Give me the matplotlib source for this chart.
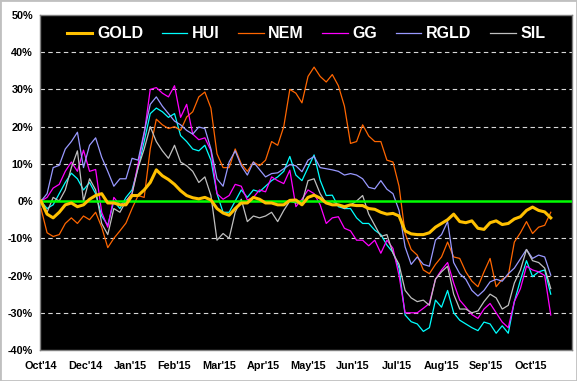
import matplotlib
matplotlib.use("Agg")
import matplotlib.pyplot as plt
import numpy as np

# values in %, sampled every 3 trading days from the start of Oct'14
step = 3
month_labels = ["Oct'14", "Dec'14", "Jan'15", "Feb'15", "Mar'15", "Apr'15",
                "May'15", "Jun'15", "Jul'15", "Aug'15", "Sep'15", "Oct'15"]
label_every = 22   # trading days between axis labels
n_days = 263

gold = [0, -3.5, -4.5, -3, -1, -0.5, -1.5, -1, 0.5, 1.5, 2, -0.5, -0.5, -1, -1,
        1.5, 1.5, 3, 5, 8.4, 6.8, 5.8, 4.5, 2.8, 1.5, 0.9, 0.6, 1, 0.3, -2,
        -3.2, -3.8, -2, -0.5, -0.5, 1, 0.5, -0.5, -0.5, -1, -1, 0.2, 0.3, -1, 1,
        1.6, 0.8, -0.5, -1, -1, -1.5, -1, -1.2, -1.2, -2, -2.2, -3, -3.5, -3.3, -4,
        -8, -8.8, -9, -9, -8.5, -7, -6, -5, -3.5, -5.5, -5.8, -5.3, -7.3, -7.6, -5.8,
        -5.3, -6.3, -6, -4.8, -4.2, -2.5, -1.6, -2.5, -2.9, -4.5]
hui = [0, -2, -1, 2, 5, 7.5, 6, 3, 5, 2, -4, -6.5, 0, -2, 1,
       3, 9, 16, 23.5, 25, 24, 22.5, 23.5, 17.6, 16, 14, 13.5, 15, 11, 2,
       -3, -3, 0, 3, 1, 3, 2.5, 4, 5.5, 6.5, 8, 12, 7, 5.5, 9,
       12.4, 5.6, 1.5, 1.6, -1.5, -2, -2, -4.5, -6, -6, -7.8, -9, -11.8, -13.8, -18,
       -30.6, -32.4, -33, -35, -34, -26.6, -28.5, -24, -30, -32, -33, -34, -34.8, -32.5, -33,
       -35.5, -33.5, -35.5, -27, -21.2, -16, -20.3, -19, -18.5, -25]
nem = [-2, -8.5, -9.5, -9, -6, -4.5, -6, -4, -5, -3, -7, -12.5, -10, -8, -5.9,
       -2, 1.5, 1, 14, 22, 20.5, 19.5, 20, 19, 22.6, 24, 28, 29.3, 25, 12.7,
       9, 9, 14, 10, 8, 10.5, 9.5, 11, 16, 15, 20, 30, 29, 26.4, 33.5,
       36, 33.5, 32, 34, 31, 25.5, 15.5, 16, 20.5, 17.5, 16, 16, 11, 10.5, 4,
       -8.7, -13, -14.5, -18.5, -19.5, -17, -15, -11, -15, -15.4, -19, -21.5, -23, -19, -15.4,
       -23, -21, -20, -11, -8.5, -5.5, -8.7, -7, -6.5, -3]
gg = [0, 1, 3.5, 4.5, 8, 10.5, 8, 13.7, 8, 8.5, -3, -7, 1, -1, 0,
      2, 10, 18, 30, 30.5, 29, 28, 31, 22.5, 26, 18, 16.5, 17, 13.6, 2,
      0.5, 1.5, 4.5, 4, 0.3, 1, 3, 2.5, 6.5, 5.5, 4.7, 8.3, -1.5, 0.5, 3,
      2, -1, -6, -4.5, -4.2, -7.3, -8, -10.5, -10.5, -12, -10.5, -14, -10.5, -12.7, -20,
      -30, -30, -30, -28.8, -27.5, -21, -18.5, -16.5, -22, -26.6, -28.5, -30.5, -31.5, -29, -27.5,
      -30, -32.5, -34, -27, -23.5, -17.5, -18.5, -19, -20, -30.6]
rgld = [0, 2, 9, 9.6, 14, 16, 18.5, 9, 15, 17, 11.8, 8, 4, 6, 6,
        11.5, 11, 18.5, 26, 28, 25.5, 23.5, 21.5, 20.5, 19, 18, 19.9, 19.5, 14, 6,
        4, 10.5, 13.5, 9.5, 7, 10.5, 8.5, 6.5, 7.4, 7.6, 8.7, 9.8, 9.5, 7.9, 11,
        12, 9, 8.7, 8.4, 8, 7, 7.4, 7, 6, 3.7, 3.3, 5.5, 3.2, 2, -2.5,
        -12.3, -17, -15, -17, -17.5, -10.5, -9, -5.5, -16.5, -19.5, -21, -24, -25.5, -24, -21.7,
        -21, -21.5, -19.5, -18, -15.5, -13, -15.4, -14.5, -15, -19.9]
sil = [0, -3, 1, 0, 3, 9, 13.5, 0, 6, 3, -6, -9, -2, -3, 0,
       2, 9, 14, 20, 16, 13.5, 11.5, 15, 10.5, 9.5, 8, 5, 6.5, 1.5, -10.5,
       -8.7, -10, -3, 0.5, -5.5, -4, -4.5, -4, -3, -5.5, -2.5, 0, -0.5, -0.5, 5.5,
       6, 2, -0.6, 0, -1, -2, -1, 0, 1.5, -3.5, -6.5, -9.5, -9, -14, -17,
       -24, -26, -27, -26.6, -28, -21, -19, -17.5, -25, -29, -29, -30, -29.5, -27, -25,
       -26, -29, -28, -22, -18.5, -13, -16, -16.5, -18, -23.5]

names = ["GOLD", "HUI", "NEM", "GG", "RGLD", "SIL"]
series = [gold, hui, nem, gg, rgld, sil]
colors = ["#FFC000", "#00FFFF", "#FF6600", "#FF00FF", "#9999FF", "#C0C0C0"]
widths = [2.2, 0.9, 0.9, 0.9, 0.9, 0.9]
zorders = [6, 3, 3, 3, 3, 3]

fig = plt.figure(figsize=(5.77, 3.81), dpi=100, facecolor="white")
fig.patches.append(plt.Rectangle((0, 0), 1, 1, transform=fig.transFigure,
                                 fill=False, edgecolor="#c0c0c0", lw=2))
ax = fig.add_axes([40 / 577, 31 / 381, 532 / 577, 335 / 381])
ax.set_facecolor("black")

for name, vals, c, lw, z in zip(names, series, colors, widths, zorders):
    x = np.arange(len(vals)) * step
    ax.plot(x, vals, color=c, lw=lw, label=name, zorder=z)

for g in [-30, -20, -10, 10, 20, 30, 40]:
    ax.axhline(g, color="#d8d8d8", lw=0.8, ls=(0, (4, 3)), zorder=1)
ax.axhline(0, color="#00FF00", lw=1.8, zorder=5)

ax.set_xlim(-0.5, n_days - 0.5)
ax.set_ylim(-40, 50)
ax.set_yticks(range(-40, 51, 10))
ax.set_yticklabels([f"{v}%" for v in range(-40, 51, 10)])
ax.set_xticks(np.arange(len(month_labels)) * label_every)
ax.set_xticklabels(month_labels)
ax.tick_params(length=0, labelsize=7.8, colors="black")
ax.tick_params(axis="x", pad=8)
ax.tick_params(axis="y", pad=5)
for lab in ax.get_xticklabels() + ax.get_yticklabels():
    lab.set_fontweight("bold")
    lab.set_fontfamily("Liberation Sans")
for s in ax.spines.values():
    s.set_color("#808080")
    s.set_linewidth(1)

leg = ax.legend(loc="upper center", ncol=6, frameon=False, bbox_to_anchor=(0.5, 1.0),
                prop={"family": "Liberation Sans", "weight": "bold", "size": 11.5},
                handlelength=1.6, handletextpad=0.3, columnspacing=1.15,
                borderaxespad=0.3)
for t in leg.get_texts():
    t.set_color("white")

fig.savefig("out.png", dpi=100, facecolor="white")
